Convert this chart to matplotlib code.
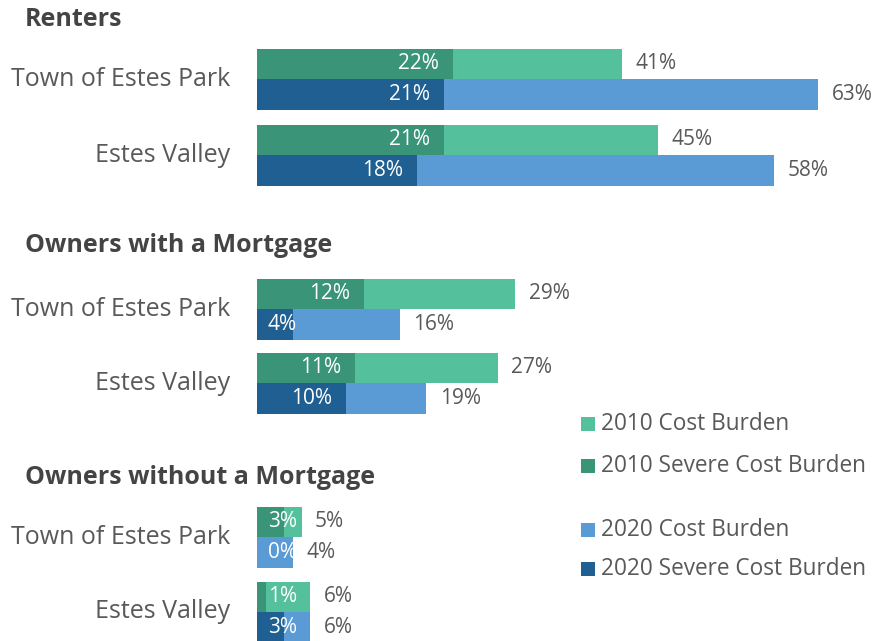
import matplotlib.pyplot as plt

plt.rcParams['font.family'] = ['Open Sans', 'DejaVu Sans']

sections = ["Renters", "Owners with a Mortgage", "Owners without a Mortgage"]
places = ["Town of Estes Park", "Estes Valley"]

# values per section, [Town of Estes Park, Estes Valley]
burden_2010 = [[41, 45], [29, 27], [5, 6]]
severe_2010 = [[22, 21], [12, 11], [3, 1]]
burden_2020 = [[63, 58], [16, 19], [4, 6]]
severe_2020 = [[21, 18], [4, 10], [0, 3]]

legend_labels = ["2010 Cost Burden", "2010 Severe Cost Burden",
                 "2020 Cost Burden", "2020 Severe Cost Burden"]

c_2010 = '#55C09C'
c_2010s = '#3A9478'
c_2020 = '#5B9BD5'
c_2020s = '#1F5F91'
grey = '#595959'

W, H = 881, 641
fig = plt.figure(figsize=(W / 100, H / 100), dpi=100)
ax = fig.add_axes([0, 0, 1, 1])
px = 8.91  # pixels per percent
x0 = 257
ax.set_xlim(-x0 / px, (W - x0) / px)
ax.set_ylim(H, 0)
ax.axis('off')

header_y = [20, 246, 478]
pair_y = [[79, 155], [309, 383], [537, 612]]
bar_h = 30.5


def draw_bar(y, total, severe, light, dark):
    ax.barh(y, total, height=bar_h, color=light, left=0)
    if severe > 0:
        ax.barh(y, severe, height=bar_h, color=dark, left=0)
    if severe >= 8:
        ax.text(severe - 1.6, y, f"{severe}%", color='white', fontsize=15,
                ha='right', va='center')
    else:
        ax.text(1.2, y, f"{severe}%", color='white', fontsize=15,
                ha='left', va='center')
    ax.text(total + 1.5, y, f"{total}%", color=grey, fontsize=15,
            ha='left', va='center')


for s, name in enumerate(sections):
    ax.text((25 - x0) / px, header_y[s], name, fontsize=18, fontweight='bold',
            color='#444444', ha='left', va='center')
    for p, place in enumerate(places):
        yc = pair_y[s][p]
        draw_bar(yc - bar_h / 2, burden_2010[s][p], severe_2010[s][p], c_2010, c_2010s)
        draw_bar(yc + bar_h / 2, burden_2020[s][p], severe_2020[s][p], c_2020, c_2020s)
        ax.text((230 - x0) / px, yc, place, fontsize=18, color=grey,
                ha='right', va='center')

# legend
leg_y = [424, 466, 530, 569]
leg_c = [c_2010, c_2010s, c_2020, c_2020s]
for yy, col, lab in zip(leg_y, leg_c, legend_labels):
    ax.barh(yy, 14 / px, height=14, left=(581 - x0) / px, color=col)
    ax.text((601 - x0) / px, yy, lab, fontsize=16.3, color=grey,
            ha='left', va='center')

fig.savefig('out.png', dpi=100)
